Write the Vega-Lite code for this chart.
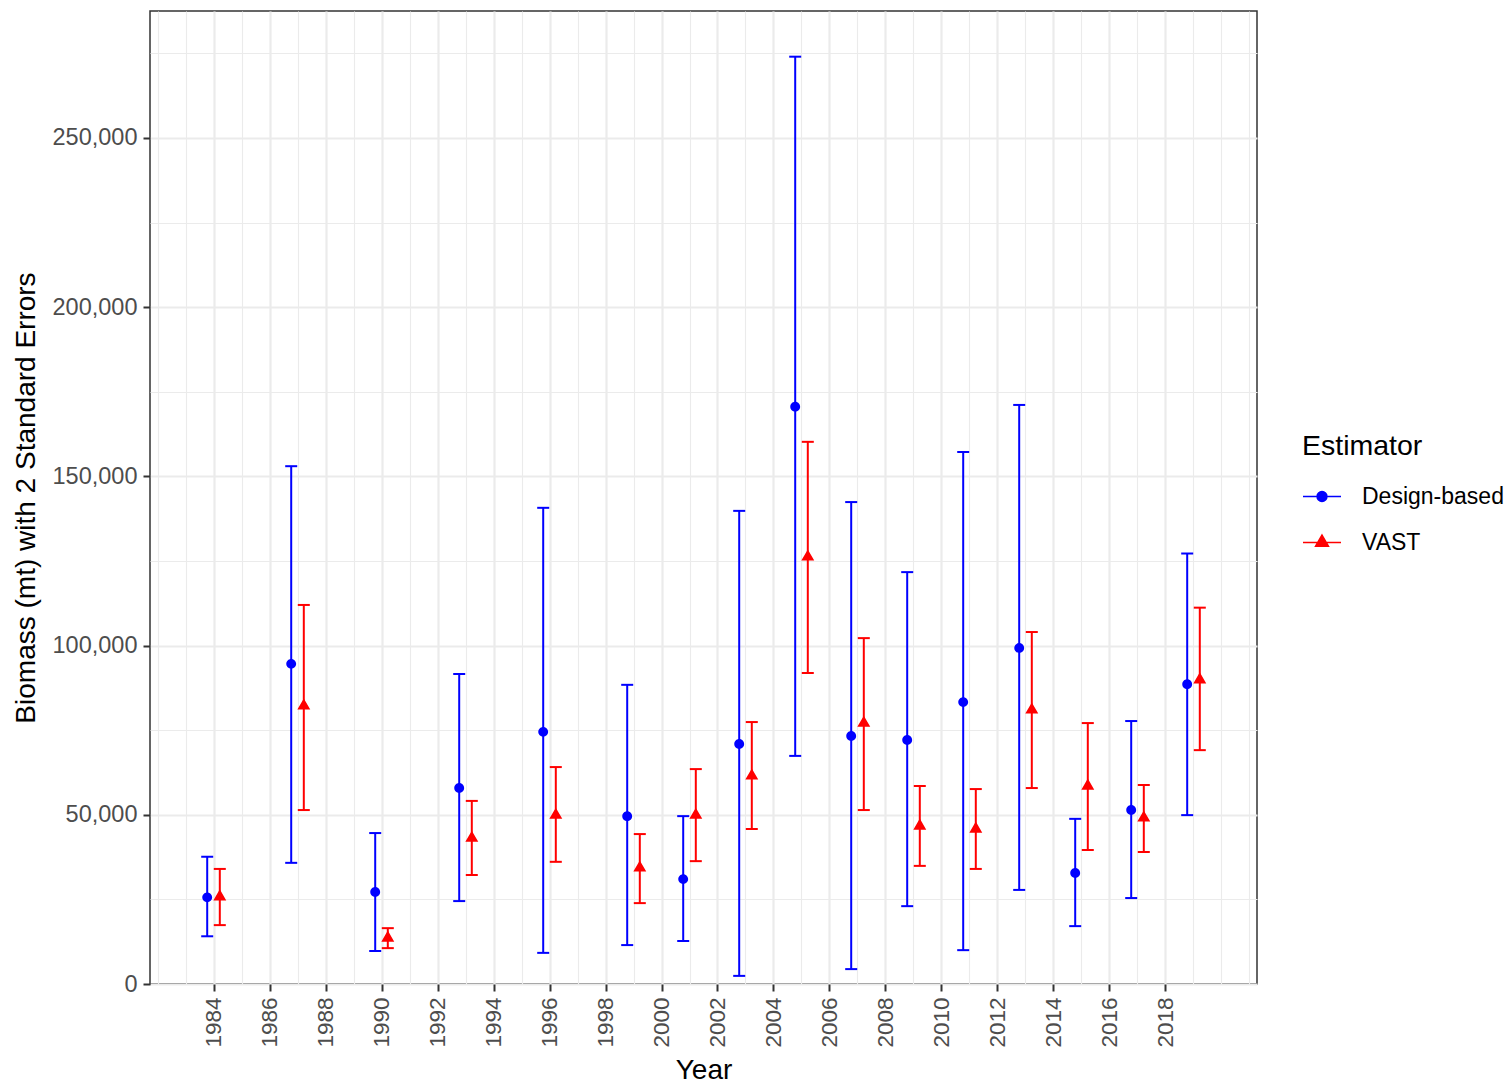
{
  "$schema": "https://vega.github.io/schema/vega-lite/v6.json",
  "width": 1107,
  "height": 973,
  "autosize": "none",
  "padding": {"left": 150, "top": 11, "right": 252, "bottom": 102},
  "background": "white",
  "config": {
    "font": "Liberation Sans",
    "view": {"stroke": "#333333", "strokeWidth": 1.5}
  },
  "data": {
    "values": [
      {"Year": 1984, "Estimator": "Design-based", "est": 25600, "lo": 14100, "hi": 37600},
      {"Year": 1984, "Estimator": "VAST", "est": 25800, "lo": 17400, "hi": 34000},
      {"Year": 1987, "Estimator": "Design-based", "est": 94600, "lo": 35800, "hi": 153000},
      {"Year": 1987, "Estimator": "VAST", "est": 82200, "lo": 51400, "hi": 112000},
      {"Year": 1990, "Estimator": "Design-based", "est": 27200, "lo": 9750, "hi": 44600},
      {"Year": 1990, "Estimator": "VAST", "est": 13600, "lo": 10600, "hi": 16500},
      {"Year": 1993, "Estimator": "Design-based", "est": 57900, "lo": 24500, "hi": 91600},
      {"Year": 1993, "Estimator": "VAST", "est": 43100, "lo": 32200, "hi": 54100},
      {"Year": 1996, "Estimator": "Design-based", "est": 74500, "lo": 9200, "hi": 140700},
      {"Year": 1996, "Estimator": "VAST", "est": 49900, "lo": 36100, "hi": 64100},
      {"Year": 1999, "Estimator": "Design-based", "est": 49600, "lo": 11500, "hi": 88400},
      {"Year": 1999, "Estimator": "VAST", "est": 34300, "lo": 23900, "hi": 44300},
      {"Year": 2001, "Estimator": "Design-based", "est": 31000, "lo": 12700, "hi": 49600},
      {"Year": 2001, "Estimator": "VAST", "est": 49900, "lo": 36300, "hi": 63500},
      {"Year": 2003, "Estimator": "Design-based", "est": 70900, "lo": 2400, "hi": 139800},
      {"Year": 2003, "Estimator": "VAST", "est": 61500, "lo": 45800, "hi": 77400},
      {"Year": 2005, "Estimator": "Design-based", "est": 170600, "lo": 67400, "hi": 274000},
      {"Year": 2005, "Estimator": "VAST", "est": 126200, "lo": 91900, "hi": 160200},
      {"Year": 2007, "Estimator": "Design-based", "est": 73300, "lo": 4400, "hi": 142400},
      {"Year": 2007, "Estimator": "VAST", "est": 77100, "lo": 51400, "hi": 102200},
      {"Year": 2009, "Estimator": "Design-based", "est": 72100, "lo": 23000, "hi": 121700},
      {"Year": 2009, "Estimator": "VAST", "est": 46700, "lo": 34900, "hi": 58500},
      {"Year": 2011, "Estimator": "Design-based", "est": 83300, "lo": 10000, "hi": 157200},
      {"Year": 2011, "Estimator": "VAST", "est": 45800, "lo": 34000, "hi": 57600},
      {"Year": 2013, "Estimator": "Design-based", "est": 99300, "lo": 27800, "hi": 171100},
      {"Year": 2013, "Estimator": "VAST", "est": 81000, "lo": 57900, "hi": 104000},
      {"Year": 2015, "Estimator": "Design-based", "est": 32800, "lo": 17100, "hi": 48800},
      {"Year": 2015, "Estimator": "VAST", "est": 58500, "lo": 39600, "hi": 77100},
      {"Year": 2017, "Estimator": "Design-based", "est": 51400, "lo": 25400, "hi": 77700},
      {"Year": 2017, "Estimator": "VAST", "est": 49100, "lo": 39000, "hi": 58800},
      {"Year": 2019, "Estimator": "Design-based", "est": 88600, "lo": 49900, "hi": 127200},
      {"Year": 2019, "Estimator": "VAST", "est": 89900, "lo": 69100, "hi": 111200}
    ]
  },
  "encoding": {
    "x": {
      "field": "Year",
      "type": "ordinal",
      "scale": {
        "type": "point",
        "domain": [1982,1983,1984,1985,1986,1987,1988,1989,1990,1991,1992,1993,1994,1995,1996,1997,1998,1999,2000,2001,2002,2003,2004,2005,2006,2007,2008,2009,2010,2011,2012,2013,2014,2015,2016,2017,2018,2019,2020,2021],
        "padding": 0.268
      },
      "axis": {
        "title": "Year",
        "values": [1982,1983,1984,1985,1986,1987,1988,1989,1990,1991,1992,1993,1994,1995,1996,1997,1998,1999,2000,2001,2002,2003,2004,2005,2006,2007,2008,2009,2010,2011,2012,2013,2014,2015,2016,2017,2018,2019,2020,2021],
        "labelExpr": "(datum.value % 2 == 0 && datum.value >= 1984 && datum.value <= 2018) ? datum.label : ''",
        "labelAngle": 270,
        "labelFontSize": 22.5,
        "labelColor": "#4d4d4d",
        "labelPadding": 6,
        "labelOverlap": false,
        "tickSize": 7,
        "tickWidth": 2,
        "tickColor": "#333333",
        "tickOpacity": {"condition": {"test": "datum.value % 2 == 0 && datum.value >= 1984 && datum.value <= 2018", "value": 1}, "value": 0},
        "grid": true,
        "gridColor": "#ebebeb",
        "gridWidth": {"condition": {"test": "datum.value % 2 == 0 && datum.value >= 1984 && datum.value <= 2018", "value": 2.2}, "value": 1.1},
        "domain": false,
        "titleFontSize": 28,
        "titleFontWeight": "normal",
        "titleColor": "black",
        "titlePadding": 9
      }
    },
    "xOffset": {
      "field": "Estimator",
      "type": "nominal",
      "scale": {"type": "point", "domain": ["Design-based", "VAST"], "range": [-6.3, 6.3], "padding": 0}
    }
  },
  "layer": [
    {
      "mark": {"type": "rule", "strokeWidth": 2},
      "encoding": {
        "y": {
          "field": "lo",
          "type": "quantitative",
          "title": "Biomass (mt) with 2 Standard Errors",
          "scale": {"domain": [0, 287500], "nice": false, "zero": true},
          "axis": {
            "values": [0,25000,50000,75000,100000,125000,150000,175000,200000,225000,250000,275000],
            "labelExpr": "datum.value % 50000 == 0 ? format(datum.value, ',') : ''",
            "labelFontSize": 23.5,
            "labelColor": "#4d4d4d",
            "labelPadding": 6,
            "labelOverlap": false,
            "tickSize": 7,
            "tickWidth": 2,
            "tickColor": "#333333",
            "tickOpacity": {"condition": {"test": "datum.value % 50000 == 0", "value": 1}, "value": 0},
            "grid": true,
            "gridColor": "#ebebeb",
            "gridWidth": {"condition": {"test": "datum.value % 50000 == 0", "value": 2.2}, "value": 1.1},
            "domain": false,
            "titleFontSize": 28,
            "titleFontWeight": "normal",
            "titleColor": "black",
            "titlePadding": 12
          }
        },
        "y2": {"field": "hi"},
        "color": {"field": "Estimator", "type": "nominal", "scale": {"range": ["#0000ff", "#ff0000"]}, "legend": null}
      }
    },
    {
      "mark": {"type": "tick", "thickness": 2, "size": 12, "orient": "horizontal", "opacity": 1},
      "encoding": {
        "y": {"field": "hi", "type": "quantitative", "title": "Biomass (mt) with 2 Standard Errors"},
        "color": {"field": "Estimator", "type": "nominal", "legend": null}
      }
    },
    {
      "mark": {"type": "tick", "thickness": 2, "size": 12, "orient": "horizontal", "opacity": 1},
      "encoding": {
        "y": {"field": "lo", "type": "quantitative", "title": "Biomass (mt) with 2 Standard Errors"},
        "color": {"field": "Estimator", "type": "nominal", "legend": null}
      }
    },
    {
      "mark": {
        "type": "point",
        "filled": true,
        "opacity": 1,
        "size": 1444,
        "strokeWidth": 2,
        "stroke": {"expr": "datum.value === 'VAST' ? '#ff0000' : (datum.value === 'Design-based' ? '#0000ff' : null)"}
      },
      "encoding": {
        "y": {"field": "est", "type": "quantitative", "title": "Biomass (mt) with 2 Standard Errors"},
        "fill": {
          "field": "Estimator",
          "type": "nominal",
          "scale": {"domain": ["Design-based", "VAST"], "range": ["#0000ff", "#ff0000"]},
          "legend": {
            "orient": "none",
            "legendX": 1152,
            "legendY": 421,
            "title": "Estimator",
            "titleFontSize": 28.5,
            "titleFontWeight": "normal",
            "titleColor": "black",
            "titlePadding": 16,
            "labelFontSize": 23,
            "labelColor": "black",
            "labelOffset": 20,
            "rowPadding": 14,
            "symbolSize": 1444
          }
        },
        "shape": {
          "field": "Estimator",
          "type": "nominal",
          "scale": {
            "domain": ["Design-based", "VAST"],
            "range": [
              "M-1,0L1,0M0.26,0A0.26,0.26,0,1,1,-0.26,0A0.26,0.26,0,1,1,0.26,0Z",
              "M-1,0L1,0M0,-0.39L0.34,0.195L-0.34,0.195Z"
            ]
          }
        }
      }
    }
  ]
}
